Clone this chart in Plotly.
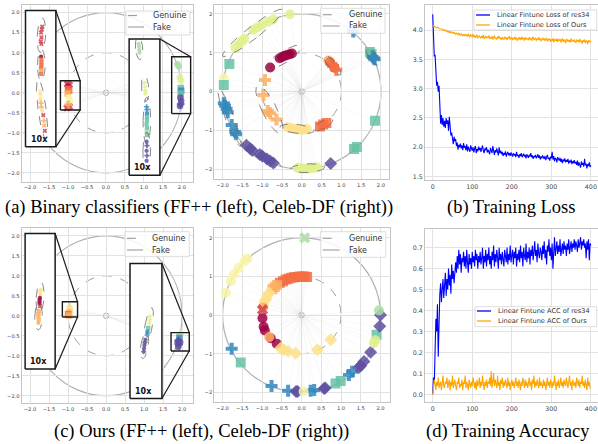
import numpy as np
import plotly.graph_objects as go

W, H = 598, 444

# ---------------- tick labels ----------------
pos_ticks = [-2.0, -1.5, -1.0, -0.5, 0.0, 0.5, 1.0, 1.5, 2.0]
pos_ticklabels = ['\u22122.0', '\u22121.5', '\u22121.0', '\u22120.5', '0.0', '0.5', '1.0', '1.5', '2.0']
int_ticks = [-2, -1, 0, 1, 2]
int_ticklabels = ['\u22122', '\u22121', '0', '1', '2']
step_ticks = [0, 100, 200, 300, 400]
step_ticklabels = ['0', '100', '200', '300', '400']
loss_ticks = [1.5, 2.0, 2.5, 3.0, 3.5, 4.0]
loss_ticklabels = ['1.5', '2.0', '2.5', '3.0', '3.5', '4.0']
acc_ticks = [0.0, 0.1, 0.2, 0.3, 0.4, 0.5, 0.6, 0.7]
acc_ticklabels = ['0.0', '0.1', '0.2', '0.3', '0.4', '0.5', '0.6', '0.7']

genuine_radius = 1.0
fake_radius = 2.0
origin_radius = 0.07

# class id -> Spectral colour index, marker id -> symbol
SPECTRAL = ['#9e0142', '#d53e4f', '#f46d43', '#fdae61', '#fee08b', '#f7f3a8',
            '#e0f08f', '#abdda4', '#66c2a5', '#3288bd', '#5e4fa2']
SYMBOLS = ['circle', 'square', 'cross', 'diamond', 'x']

# ---------------- (a) left: binary classifier, FF++ ----------------
a1_x = [-1.02, -0.96, -1.0, -1.0, -0.97, -1.01, -0.98, -0.95, -1.0, -0.96, -1.03, -0.99,
        -1.68, -1.69, -1.71, -1.7, -1.72, -1.7,
        -1.71, -1.7, -1.7, -1.7, -1.71, -1.7, -1.71,
        -1.74, -1.73, -1.72, -1.73, -1.71, -1.7, -1.68, -1.65, -1.64, -1.63, -1.61,
        1.88, 1.92, 1.95, 1.97, 1.97, 1.98, 1.97, 1.96, 1.98, 1.97, 1.95,
        0.86, 0.87, 0.88, 0.88,
        1.02, 1.03, 1.04, 1.04,
        1.07, 1.08, 1.08, 1.08, 1.08, 1.07, 1.08, 1.07, 1.08,
        1.07, 1.08, 1.07, 1.08, 1.07]
a1_y = [0.22, 0.2, 0.15, 0.1, 0.05, -0.02, -0.12, -0.2, -0.27, -0.35, -0.38, -0.3,
        1.65, 1.58, 1.5, 1.38, 1.28, 1.22,
        0.9, 0.83, 0.76, 0.69, 0.62, 0.55, 0.47,
        0.05, -0.03, -0.1, -0.18, -0.26, -0.36, -0.45, -0.56, -0.7, -0.82, -0.95,
        0.72, 0.66, 0.38, 0.3, 0.12, 0.05, -0.02, -0.12, -0.2, -0.28, -0.33,
        1.22, 1.15, 1.07, 1.0,
        0.25, 0.15, 0.05, -0.02,
        -0.35, -0.42, -0.52, -0.6, -0.68, -0.78, -0.88, -0.98, -1.06,
        -1.22, -1.32, -1.45, -1.57, -1.7]
a1_cls = [1, 1, 0, 2, 2, 3, 5, 5, 4, 1, 1, 3,
          1, 1, 1, 1, 1, 1,
          0, 2, 2, 2, 2, 3, 2,
          5, 4, 5, 4, 3, 3, 4, 1, 3, 3, 1,
          7, 7, 6, 6, 8, 9, 8, 10, 10, 10, 10,
          7, 7, 7, 7,
          6, 6, 6, 6,
          9, 9, 9, 8, 8, 8, 8, 7, 8,
          10, 10, 10, 10, 10]
a1_mk = [4, 4, 0, 1, 1, 1, 0, 0, 0, 4, 4, 2,
         4, 4, 4, 4, 4, 4,
         0, 1, 1, 1, 1, 1, 1,
         0, 0, 0, 0, 2, 2, 0, 4, 2, 4, 4,
         0, 0, 0, 0, 1, 1, 1, 0, 0, 3, 0,
         0, 0, 0, 0,
         0, 0, 0, 0,
         2, 2, 1, 1, 1, 1, 1, 1, 1,
         0, 2, 0, 2, 0]
a1_grp = [-1] * 12 + [0] * 6 + [1] * 7 + [2] * 11 + [-1] * 11 + [3] * 4 + [4] * 4 + [5] * 9 + [6] * 5

# ---------------- (a) right: binary classifier, Celeb-DF ----------------
a2_x = [-0.72, -0.85, -1.01, -1.12, -1.23, -1.45, -1.52, -1.6, -1.68,
        -0.3, -1.97, -1.83, -1.97,
        -1.97, -1.94, -1.9, -1.87, -1.77, -1.68, -1.66,
        -1.4, -1.3, -1.25, -1.06, -1.0, -0.88, -0.8, -0.72,
        -0.1, -0.03, 0.04, 0.11, 0.18, 0.25, 0.32, 0.38,
        0.73, 1.32, 1.39, 1.85, 1.3,
        1.72, 1.76, 1.79, 1.82, 1.84,
        -0.8, -0.56, -0.5, -0.44, -0.37, -0.31, -0.25,
        0.67, 0.71, 0.75, 0.79, 0.83, 0.87,
        -0.93,
        -0.97, -0.86, -0.8, -0.64,
        -0.35, -0.28, -0.2, -0.12, -0.05, 0.04, 0.13,
        0.46, 0.54, 0.62]
a2_y = [1.86, 1.8, 1.72, 1.65, 1.59, 1.36, 1.29, 1.2, 1.12,
        1.99, 0.34, 0.71, 0.17,
        -0.3, -0.36, -0.44, -0.53, -0.86, -1.04, -1.1,
        -1.38, -1.47, -1.52, -1.62, -1.66, -1.74, -1.79, -1.84,
        -1.97, -1.98, -1.99, -1.99, -1.98, -1.97, -1.96, -1.95,
        -1.85, -1.48, -1.43, -0.75, 1.55,
        1.02, 0.97, 0.9, 0.86, 0.83,
        0.62, 0.86, 0.89, 0.92, 0.94, 0.96, 0.98,
        0.8, 0.76, 0.71, 0.66, 0.61, 0.56,
        0.3,
        -0.09, -0.5, -0.56, -0.72,
        -0.92, -0.94, -0.96, -0.97, -0.98, -0.98, -0.97,
        -0.9, -0.85, -0.81]
a2_cls = [6] * 9 + [6, 5, 8, 8] + [9] * 7 + [10] * 8 + [6] * 8 + [10, 8, 8, 8, 9] + \
         [8, 8, 9, 9, 9] + [0] * 7 + [3, 2, 2, 2, 2, 2] + [3] + [3] * 4 + [4] * 7 + [2] * 3
a2_mk = [0] * 9 + [0, 0, 1, 1] + [2] * 7 + [3] * 8 + [0] * 8 + [3, 1, 1, 1, 2] + \
        [1, 1, 2, 2, 2] + [0] * 7 + [0, 0, 2, 2, 0, 2] + [2] + [2] * 4 + [0] * 7 + [1] * 3
a2_grp = [0] * 9 + [-1] * 4 + [1] * 7 + [2] * 8 + [3] * 8 + [-1] * 5 + [4] * 5 + [5] * 7 + \
         [6] * 6 + [-1] + [7] * 4 + [8] * 7 + [9] * 3

# ---------------- (c) left: ours, FF++ ----------------
c1_x = [-0.96, -0.95, -0.98, -1.0, -0.97,
        -1.72, -1.73, -1.73, -1.74, -1.75, -1.75, -1.74,
        -1.77, -1.78, -1.78, -1.77, -1.78,
        1.95, 1.93, 1.9, 1.88, 1.92, 1.9, 1.95,
        1.16, 1.15, 1.14, 1.11, 1.09, 1.08,
        1.04, 1.02, 1.01, 1.0, 0.99]
c1_y = [0.2, 0.14, 0.09, 0.04, 0.01,
        0.65, 0.59, 0.53, 0.45, 0.38, 0.3, 0.24,
        0.12, 0.05, -0.02, -0.1, -0.18,
        -0.46, -0.55, -0.62, -0.68, -0.72, -0.78, -0.66,
        -0.02, -0.1, -0.18, -0.3, -0.4, -0.48,
        -0.6, -0.67, -0.74, -0.82, -0.9]
c1_cls = [4, 4, 3, 2, 3,
          4, 4, 4, 0, 0, 0, 1,
          3, 3, 3, 3, 3,
          6, 9, 10, 10, 10, 10, 10,
          6, 6, 6, 8, 9, 9,
          10, 10, 10, 10, 10]
c1_mk = [0, 0, 0, 1, 1,
         0, 0, 0, 0, 1, 0, 4,
         1, 1, 1, 1, 0,
         2, 1, 3, 0, 3, 0, 0,
         2, 2, 0, 1, 1, 2,
         0, 3, 0, 0, 3]
c1_grp = [-1] * 5 + [0] * 7 + [1] * 5 + [-1] * 7 + [2] * 6 + [3] * 5

# ---------------- (c) right: ours, Celeb-DF ----------------
c2_x = [0.08,
        -1.37, -1.45, -1.6, -1.71, -1.79, -1.92,
        -0.55, -0.47, -0.4, -0.33, -0.26, -0.19, -0.12, -0.05, 0.02, 0.08, 0.14,
        -0.62, -0.68, -0.74,
        -0.82, -0.87, -0.92, -0.95, -0.97,
        -0.99,
        -0.99, -0.96, -0.93, -0.78, -0.63,
        -0.82,
        -0.53, -0.45, -0.34, -0.15, 0.4, 0.74,
        -1.77, -0.76, -0.34, 0.23, 0.32, 1.2, 1.28,
        -1.54, 0.86, 0.99, 1.9,
        -0.14, -0.1, 0.57, 0.6, 1.45, 1.5, 1.58, 1.75, 2.0, 1.98,
        1.96, 1.83, 1.87, 0.05]
c2_y = [2.0,
        1.47, 1.39, 1.22, 1.06, 0.88, 0.58,
        0.84, 0.88, 0.92, 0.94, 0.97, 0.98, 0.99, 1.0, 1.0, 1.0, 0.99,
        0.78, 0.73, 0.67,
        0.57, 0.49, 0.39, 0.3, 0.2,
        0.14,
        -0.08, -0.3, -0.4, -0.6, -0.74,
        -0.57,
        -0.86, -0.9, -0.94, -0.99, -0.9, -0.64,
        -0.87, -1.84, -1.96, -1.96, -1.94, -1.55, -1.47,
        -1.23, -1.77, -1.71, -0.51,
        -1.98, -1.98, -1.9, -1.89, -1.36, -1.31, -1.2, -0.96, 0.0, -0.29,
        0.12, -0.73, -0.65, -1.98]
c2_cls = [7] + [5] * 6 + [2] * 11 + [3] * 3 + [4, 4, 4, 4, 3] + [1] + [0] * 5 + [3] + \
         [4] * 6 + [9] * 7 + [8] * 4 + [10] * 10 + [7, 6, 6, 5]
c2_mk = [4] + [0] * 6 + [1] * 11 + [1] * 3 + [3, 0, 3, 0, 0] + [4] + [0] * 5 + [0] + \
        [3] * 6 + [2] * 7 + [1] * 4 + [3] * 10 + [0, 0, 0, 0]
c2_grp = [-1] * len(c2_x)

# ---------------- (b) / (d) training curves (every 2nd step) ----------------
loss_res34 = [4.27, 3.9, 3.55, 3.58, 3.3, 3.05, 3.12, 2.95, 3.05, 2.62,
              2.4, 2.55, 2.38, 2.5, 2.35, 2.45, 2.33, 2.5, 2.4, 2.46,
              2.28, 2.52, 2.3, 2.2, 2.25, 2.12, 2.05, 2.18, 2.1, 2.14,
              2.02, 2.08, 1.96, 2.04, 2.0, 2.06, 1.98, 2.03, 1.95, 2.07,
              1.99, 2.02, 1.95, 2.05, 1.93, 2.01, 1.97, 1.92, 2.03, 1.96,
              1.94, 2.0, 1.91, 1.98, 2.02, 1.9, 1.97, 1.93, 2.01, 1.95,
              1.99, 1.92, 1.96, 2.03, 1.94, 1.9, 1.98, 1.95, 2.0, 1.91,
              1.96, 1.93, 1.88, 1.99, 1.94, 1.9, 2.02, 1.92, 1.87, 1.95,
              1.91, 1.98, 1.93, 1.86, 2.0, 1.9, 1.94, 1.88, 1.92, 1.85,
              1.9, 1.87, 1.93, 1.84, 1.89, 1.92, 1.86, 1.9, 1.85, 1.91,
              1.87, 1.84, 1.9, 1.86, 1.88, 1.83, 1.92, 1.85, 1.87, 1.82,
              1.88, 1.85, 1.9, 1.83, 1.86, 1.89, 1.84, 1.87, 1.81, 1.88,
              1.85, 1.82, 1.87, 1.84, 1.9, 1.83, 1.86, 1.8, 1.85, 1.83,
              1.87, 1.81, 1.84, 1.88, 1.82, 1.86, 1.79, 1.84, 1.81, 1.86,
              1.83, 1.8, 1.85, 1.78, 1.83, 1.87, 1.8, 1.82, 1.77, 1.84,
              1.81, 1.92, 1.79, 1.85, 1.76, 1.82, 1.8, 1.74, 1.83, 1.79,
              1.77, 1.82, 1.75, 1.8, 1.73, 1.79, 1.76, 1.81, 1.74, 1.78,
              1.75, 1.8, 1.72, 1.77, 1.74, 1.79, 1.71, 1.76, 1.73, 1.78,
              1.72, 1.75, 1.7, 1.77, 1.68, 1.74, 1.71, 1.65, 1.76, 1.7,
              1.73, 1.67, 1.8, 1.69, 1.72, 1.64, 1.71, 1.68, 1.74, 1.66,
              1.69]
loss_ours = [4.08, 4.07, 4.06, 4.06, 4.05, 4.04, 4.05, 4.03, 4.03, 4.02,
             4.02, 4.01, 4.02, 4.0, 4.01, 3.99, 4.0, 3.98, 3.99, 3.97,
             3.98, 3.96, 3.98, 3.95, 3.97, 3.96, 3.94, 3.97, 3.95, 3.93,
             3.95, 3.94, 3.92, 3.95, 3.93, 3.91, 3.94, 3.92, 3.9, 3.93,
             3.91, 3.93, 3.9, 3.92, 3.89, 3.94, 3.9, 3.88, 3.92, 3.9,
             3.89, 3.93, 3.88, 3.91, 3.87, 3.9, 3.92, 3.86, 3.89, 3.91,
             3.88, 3.86, 3.9, 3.87, 3.92, 3.85, 3.88, 3.9, 3.86, 3.89,
             3.87, 3.91, 3.85, 3.88, 3.86, 3.9, 3.84, 3.88, 3.91, 3.85,
             3.87, 3.84, 3.89, 3.86, 3.9, 3.85, 3.87, 3.83, 3.88, 3.86,
             3.84, 3.89, 3.85, 3.87, 3.83, 3.88, 3.86, 3.9, 3.84, 3.86,
             3.88, 3.83, 3.86, 3.85, 3.89, 3.84, 3.87, 3.82, 3.86, 3.88,
             3.84, 3.87, 3.83, 3.89, 3.85, 3.86, 3.82, 3.88, 3.84, 3.86,
             3.85, 3.83, 3.88, 3.84, 3.87, 3.82, 3.86, 3.89, 3.83, 3.85,
             3.87, 3.82, 3.85, 3.84, 3.88, 3.83, 3.86, 3.81, 3.85, 3.87,
             3.83, 3.86, 3.82, 3.84, 3.87, 3.81, 3.85, 3.83, 3.86, 3.8,
             3.84, 3.82, 3.86, 3.79, 3.85, 3.83, 3.81, 3.86, 3.8, 3.84,
             3.82, 3.85, 3.79, 3.83, 3.86, 3.8, 3.84, 3.82, 3.78, 3.85,
             3.81, 3.84, 3.8, 3.83, 3.79, 3.86, 3.81, 3.83, 3.8, 3.84,
             3.82, 3.78, 3.84, 3.81, 3.83, 3.79, 3.85, 3.8, 3.82, 3.77,
             3.83, 3.8, 3.84, 3.78, 3.82, 3.81, 3.76, 3.83, 3.8, 3.82,
             3.79]
acc_res34 = [0.0, 0.08, 0.05, 0.2, 0.36, 0.3, 0.43, 0.18, 0.4, 0.48,
             0.53, 0.44, 0.5, 0.55, 0.46, 0.52, 0.58, 0.47, 0.55, 0.5,
             0.6, 0.52, 0.57, 0.48, 0.62, 0.55, 0.59, 0.53, 0.6, 0.63,
             0.58, 0.66, 0.6, 0.69, 0.62, 0.67, 0.58, 0.65, 0.63, 0.68,
             0.61, 0.66, 0.6, 0.69, 0.63, 0.58, 0.67, 0.62, 0.65, 0.6,
             0.68, 0.63, 0.66, 0.61, 0.69, 0.64, 0.67, 0.6, 0.66, 0.63,
             0.68, 0.62, 0.65, 0.7, 0.6, 0.66, 0.63, 0.69, 0.61, 0.67,
             0.64, 0.7, 0.62, 0.66, 0.6, 0.68, 0.64, 0.71, 0.61, 0.67,
             0.63, 0.69, 0.65, 0.6, 0.7, 0.64, 0.67, 0.62, 0.68, 0.65,
             0.61, 0.69, 0.66, 0.63, 0.7, 0.62, 0.67, 0.64, 0.71, 0.63,
             0.66, 0.69, 0.62, 0.68, 0.65, 0.7, 0.61, 0.67, 0.64, 0.69,
             0.63, 0.71, 0.65, 0.68, 0.61, 0.7, 0.66, 0.64, 0.72, 0.63,
             0.68, 0.65, 0.7, 0.62, 0.69, 0.66, 0.71, 0.64, 0.68, 0.73,
             0.66, 0.69, 0.63, 0.72, 0.67, 0.65, 0.7, 0.68, 0.64, 0.71,
             0.67, 0.73, 0.65, 0.69, 0.62, 0.71, 0.68, 0.74, 0.66, 0.7,
             0.64, 0.72, 0.6, 0.7, 0.75, 0.66, 0.69, 0.73, 0.67, 0.71,
             0.68, 0.74, 0.66, 0.7, 0.72, 0.67, 0.73, 0.69, 0.71, 0.66,
             0.72, 0.69, 0.74, 0.67, 0.71, 0.73, 0.68, 0.72, 0.7, 0.74,
             0.69, 0.73, 0.71, 0.68, 0.74, 0.7, 0.72, 0.75, 0.69, 0.73,
             0.71, 0.74, 0.7, 0.72, 0.65, 0.73, 0.69, 0.74, 0.64, 0.72,
             0.71]
acc_ours = [0.0, 0.03, 0.07, 0.05, 0.02, 0.06, 0.04, 0.08, 0.03, 0.05,
            0.06, 0.02, 0.05, 0.09, 0.04, 0.03, 0.06, 0.05, 0.08, 0.03,
            0.05, 0.07, 0.02, 0.06, 0.04, 0.09, 0.03, 0.05, 0.07, 0.04,
            0.02, 0.06, 0.05, 0.08, 0.03, 0.05, 0.04, 0.07, 0.02, 0.06,
            0.05, 0.09, 0.03, 0.06, 0.04, 0.02, 0.07, 0.05, 0.03, 0.06,
            0.04, 0.08, 0.05, 0.03, 0.06, 0.02, 0.07, 0.04, 0.05, 0.08,
            0.03, 0.06, 0.04, 0.09, 0.05, 0.02, 0.06, 0.04, 0.07, 0.03,
            0.06, 0.05, 0.08, 0.04, 0.11, 0.03, 0.06, 0.1, 0.04, 0.07,
            0.05, 0.03, 0.09, 0.04, 0.06, 0.02, 0.07, 0.05, 0.08, 0.03,
            0.06, 0.04, 0.07, 0.05, 0.03, 0.08, 0.04, 0.06, 0.02, 0.05,
            0.07, 0.04, 0.06, 0.03, 0.05, 0.08, 0.04, 0.06, 0.03, 0.07,
            0.05, 0.02, 0.06, 0.04, 0.08, 0.05, 0.03, 0.07, 0.04, 0.06,
            0.03, 0.05, 0.08, 0.04, 0.06, 0.02, 0.07, 0.05, 0.09, 0.03,
            0.06, 0.04, 0.07, 0.05, 0.03, 0.08, 0.04, 0.06, 0.05, 0.03,
            0.07, 0.04, 0.06, 0.02, 0.05, 0.08, 0.04, 0.06, 0.03, 0.07,
            0.05, 0.03, 0.06, 0.04, 0.09, 0.05, 0.02, 0.06, 0.04, 0.07,
            0.03, 0.05, 0.08, 0.04, 0.06, 0.03, 0.07, 0.05, 0.04, 0.08,
            0.05, 0.03, 0.06, 0.09, 0.04, 0.06, 0.02, 0.07, 0.05, 0.04,
            0.06, 0.03, 0.08, 0.05, 0.04, 0.07, 0.03, 0.06, 0.05, 0.09,
            0.04, 0.06, 0.03, 0.07, 0.05, 0.02, 0.08, 0.04, 0.06, 0.03,
            0.03]
steps = list(range(0, 401, 2))

captions = ['(a) Binary classifiers (FF++ (left), Celeb-DF (right))', '(b) Training Loss',
            '(c) Ours (FF++ (left), Celeb-DF (right))', '(d) Training Accuracy']

# ---------------- helpers ----------------
fig = go.Figure()
shapes, annotations = [], []


def dx(a, b):
    return [a / W, b / W]


def dy(top, bottom):
    return [1 - bottom / H, 1 - top / H]


def ellipse(px, py, k=2.0, pad=0.09, n=90):
    pts = np.c_[px, py]
    c = pts.mean(axis=0)
    cov = np.cov(pts.T) if len(pts) > 1 else np.zeros((2, 2))
    vals, vecs = np.linalg.eigh(cov)
    a = k * np.sqrt(np.clip(vals, 0, None)) + pad
    t = np.linspace(0, 2 * np.pi, n)
    e = vecs @ (a[:, None] * np.vstack([np.cos(t), np.sin(t)]))
    return e[0] + c[0], e[1] + c[1]


def panel(xa, ya, xs, ys, cls, mk, grp, insets, main_size, inset_size=4.2):
    xs = np.asarray(xs, float)
    ys = np.asarray(ys, float)
    grp = np.asarray(grp)
    inside = np.zeros(len(xs), bool)
    for big, small in insets:
        inside |= (xs >= big[0]) & (xs <= big[1]) & (ys >= big[2]) & (ys <= big[3])
    # circles
    for r, dash, col, w in [(genuine_radius, 'dash', '#a0a0a0', 1.0),
                            (fake_radius, 'solid', '#b0b0b0', 1.2),
                            (origin_radius, 'solid', '#999999', 0.8)]:
        shapes.append(dict(type='circle', xref=xa, yref=ya, x0=-r, x1=r, y0=-r, y1=r,
                           line=dict(color=col, width=w, dash=dash), layer='below'))
    # radial lines
    lx, ly = [], []
    for x, y, ins in zip(xs, ys, inside):
        if not ins:
            lx += [0, x, None]
            ly += [0, y, None]
    fig.add_trace(go.Scatter(x=lx, y=ly, mode='lines', xaxis=xa, yaxis=ya,
                             line=dict(color='rgba(200,200,200,0.2)', width=0.6),
                             hoverinfo='skip', showlegend=False))
    # inset (zoom) boxes
    for big, small in insets:
        fig.add_trace(go.Scatter(x=[big[0], big[1], big[1], big[0], big[0]],
                                 y=[big[2], big[2], big[3], big[3], big[2]],
                                 mode='lines', fill='toself', fillcolor='white',
                                 line=dict(color='#1a1a1a', width=1.5), xaxis=xa, yaxis=ya,
                                 hoverinfo='skip', showlegend=False))
    sizes = np.where(inside, inset_size, main_size)
    fig.add_trace(go.Scatter(x=xs, y=ys, mode='markers', xaxis=xa, yaxis=ya,
                             marker=dict(color=[SPECTRAL[c] for c in cls],
                                         symbol=[SYMBOLS[m] for m in mk],
                                         size=sizes, opacity=0.85, line=dict(width=0)),
                             hoverinfo='skip', showlegend=False))
    for g in sorted(set(grp.tolist()) - {-1}):
        m = grp == g
        ex, ey = ellipse(xs[m], ys[m])
        fig.add_trace(go.Scatter(x=ex, y=ey, mode='lines', xaxis=xa, yaxis=ya,
                                 line=dict(color='#6a6a6a', width=0.8, dash='dash'),
                                 hoverinfo='skip', showlegend=False))
    for big, small in insets:
        fig.add_trace(go.Scatter(x=[small[0], small[1], small[1], small[0], small[0]],
                                 y=[small[2], small[2], small[3], small[3], small[2]],
                                 mode='lines', line=dict(color='#1a1a1a', width=1.4),
                                 xaxis=xa, yaxis=ya, hoverinfo='skip', showlegend=False))
        fig.add_trace(go.Scatter(x=[big[1], small[1], None, big[1], small[1]],
                                 y=[big[3], small[3], None, big[2], small[2]],
                                 mode='lines', line=dict(color='#1a1a1a', width=1.2),
                                 xaxis=xa, yaxis=ya, hoverinfo='skip', showlegend=False))
        annotations.append(dict(xref=xa, yref=ya, x=big[0], y=big[2], text='<b>10x</b>',
                                showarrow=False, xanchor='left', yanchor='bottom',
                                xshift=3, yshift=1,
                                font=dict(size=8, color='#111', family='DejaVu Sans')))


def add_legend(box, entries, ys, fs, line_off, linelen, text_off):
    x0, y0, x1, y1 = box
    shapes.append(dict(type='rect', xref='paper', yref='paper', x0=x0 / W, x1=x1 / W,
                       y0=1 - y1 / H, y1=1 - y0 / H, fillcolor='rgba(255,255,255,0.85)',
                       line=dict(color='#d4d4d4', width=0.8), layer='above'))
    for (label, col, dash, w), yy in zip(entries, ys):
        shapes.append(dict(type='line', xref='paper', yref='paper',
                           x0=(x0 + line_off) / W, x1=(x0 + line_off + linelen) / W,
                           y0=1 - yy / H, y1=1 - yy / H,
                           line=dict(color=col, width=w, dash=dash), layer='above'))
        annotations.append(dict(xref='paper', yref='paper', x=(x0 + text_off) / W, y=1 - yy / H,
                                text=label, showarrow=False, xanchor='left', yanchor='middle',
                                font=dict(size=fs, color='#333', family='DejaVu Sans')))


# ---------------- panels ----------------
panel('x', 'y', a1_x, a1_y, a1_cls, a1_mk, a1_grp,
      [([-2.12, -1.32, -1.35, 2.05], [-1.2, -0.68, -0.43, 0.3]),
       ([0.61, 1.42, -2.06, 1.34], [1.73, 2.23, -0.52, 0.9])], main_size=6.5)
panel('x2', 'y2', a2_x, a2_y, a2_cls, a2_mk, a2_grp, [], main_size=10)
panel('x4', 'y4', c1_x, c1_y, c1_cls, c1_mk, c1_grp,
      [([-2.13, -1.34, -1.33, 2.06], [-1.15, -0.75, -0.03, 0.35]),
       ([0.63, 1.47, -2.07, 1.31], [1.71, 2.19, -0.88, -0.42])], main_size=6.5)
panel('x5', 'y5', c2_x, c2_y, c2_cls, c2_mk, c2_grp, [], main_size=10)

fig.add_trace(go.Scatter(x=steps[:len(loss_res34)], y=loss_res34, mode='lines', xaxis='x3', yaxis='y3',
                         line=dict(color='#0000ff', width=1.1), name='Linear Fintune Loss of res34',
                         showlegend=False))
fig.add_trace(go.Scatter(x=steps[:len(loss_ours)], y=loss_ours, mode='lines', xaxis='x3', yaxis='y3',
                         line=dict(color='#ffa500', width=1.1), name='Linear Fintune Loss of Ours',
                         showlegend=False))
fig.add_trace(go.Scatter(x=steps[:len(acc_res34)], y=acc_res34, mode='lines', xaxis='x6', yaxis='y6',
                         line=dict(color='#0000ff', width=1.1), name='Linear Fintune ACC of res34',
                         showlegend=False))
fig.add_trace(go.Scatter(x=steps[:len(acc_ours)], y=acc_ours, mode='lines', xaxis='x6', yaxis='y6',
                         line=dict(color='#ffa500', width=1.1), name='Linear Fintune ACC of Ours',
                         showlegend=False))

# legends
gf = [('Genuine', '#a0a0a0', 'dash', 1.2), ('Fake', '#b0b0b0', 'solid', 1.4)]
add_legend((126, 11, 190, 35), gf, (15.5, 27), 8, 2, 16, 25)
add_legend((320.7, 8.3, 385, 33.3), gf, (14.7, 26), 8, 2, 17, 26)
add_legend((125, 231.7, 189.3, 256.7), gf, (238.3, 250), 8, 2, 16, 25)
add_legend((320.7, 231.7, 385.7, 257.3), gf, (238.3, 250), 8, 2, 17, 26)
add_legend((474, 10, 596.7, 30), [('Linear Fintune Loss of res34', '#0000ff', 'solid', 1.3),
                                   ('Linear Fintune Loss of Ours', '#ffa500', 'solid', 1.3)],
           (15, 25), 6.6, 2, 14, 21)
add_legend((475, 306.7, 596.7, 326.7), [('Linear Fintune ACC of res34', '#0000ff', 'solid', 1.3),
                                         ('Linear Fintune ACC of Ours', '#ffa500', 'solid', 1.3)],
           (311, 321), 6.6, 2, 14, 21)

# captions
for text, cx, cy in zip(captions, [198.5, 511, 201, 508], [207, 207, 431, 431]):
    annotations.append(dict(xref='paper', yref='paper', x=cx / W, y=1 - cy / H, text=text,
                            showarrow=False, xanchor='center', yanchor='middle',
                            font=dict(size=18.5, color='#000', family='Liberation Serif')))


def axis(domain, rng, tv, tt, fs, anchor):
    return dict(domain=domain, range=rng, tickvals=tv, ticktext=tt, anchor=anchor,
                showgrid=True, gridcolor='#e2e2e2', gridwidth=1, showline=True,
                linecolor='#c4c4c4', linewidth=1, mirror=True, zeroline=False, ticks='',
                tickfont=dict(size=fs, color='#444', family='DejaVu Sans'), fixedrange=True)


sfs = 5.2
fig.update_layout(
    width=W, height=H, autosize=False, margin=dict(l=0, r=0, t=0, b=0),
    paper_bgcolor='white', plot_bgcolor='white', showlegend=False, hovermode=False,
    xaxis=axis(dx(21.7, 193.3), [-2.22, 2.30], pos_ticks, pos_ticklabels, sfs, 'y'),
    yaxis=axis(dy(5, 181.7), [-2.22, 2.19], pos_ticks, pos_ticklabels, sfs, 'x'),
    xaxis2=axis(dx(214.3, 389.3), [-2.21, 2.21], pos_ticks, pos_ticklabels, sfs, 'y2'),
    yaxis2=axis(dy(5, 179.3), [-2.26, 2.23], int_ticks, int_ticklabels, sfs, 'x2'),
    xaxis3=axis(dx(425, 598), [-19.5, 418], step_ticks, step_ticklabels, 6.3, 'y3'),
    yaxis3=axis(dy(5, 180), [1.44, 4.43], loss_ticks, loss_ticklabels, 6.3, 'x3'),
    xaxis4=axis(dx(21.7, 192.7), [-2.22, 2.28], pos_ticks, pos_ticklabels, sfs, 'y4'),
    yaxis4=axis(dy(228.3, 403.3), [-2.19, 2.19], pos_ticks, pos_ticklabels, sfs, 'x4'),
    xaxis5=axis(dx(214.3, 390), [-2.21, 2.24], pos_ticks, pos_ticklabels, sfs, 'y5'),
    yaxis5=axis(dy(228.3, 402.3), [-2.26, 2.25], int_ticks, int_ticklabels, sfs, 'x5'),
    xaxis6=axis(dx(425, 598), [-19.5, 418], step_ticks, step_ticklabels, 6.3, 'y6'),
    yaxis6=axis(dy(229, 402.3), [-0.038, 0.789], acc_ticks, acc_ticklabels, 6.3, 'x6'),
    shapes=shapes, annotations=annotations,
)

fig.write_html('out.html', config={'displayModeBar': False},
               post_script="document.body.style.margin='0';document.body.style.overflow='hidden';")
